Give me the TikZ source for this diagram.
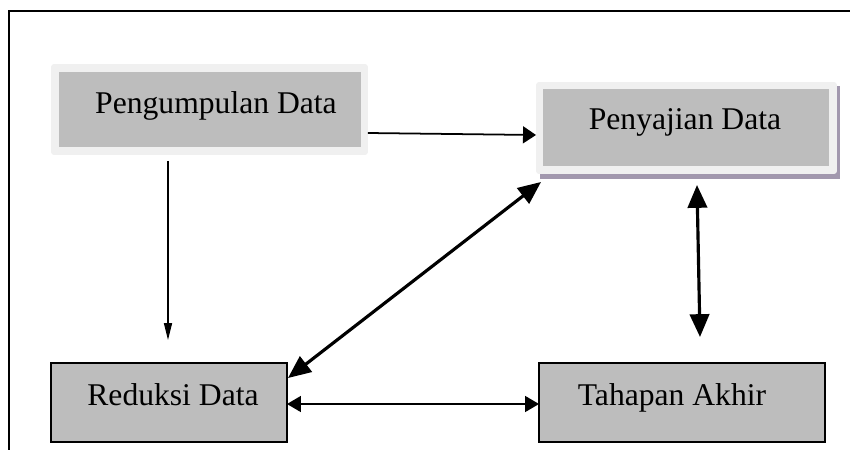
\documentclass[tikz,border=0pt]{standalone}
\usepackage{fontspec}
\setmainfont{Liberation Serif}
\usetikzlibrary{arrows.meta,calc}
\definecolor{boxgray}{RGB}{189,189,189}
\definecolor{lightframe}{RGB}{240,240,240}
\definecolor{shadowc}{RGB}{162,152,174}
\tikzset{
  lightbox/.style={fill=lightframe, rounded corners=1.7pt, inner sep=0pt, outer sep=0pt},
  innerbox/.style={fill=boxgray, inner sep=0pt, outer sep=0pt},
  shadowbox/.style={fill=shadowc, inner sep=0pt, outer sep=0pt},
  stagebox/.style={fill=boxgray, draw=black, line width=0.9pt, inner sep=0pt, outer sep=0pt},
  lbl/.style={anchor=base, inner sep=0pt, font=\fontsize{18pt}{21pt}\selectfont},
  framebar/.style={line width=1.5pt},
  thinarrow/.style={line width=1pt, -{Triangle[length=7.4pt,width=9.6pt]}},
  slimarrow/.style={line width=0.7pt, -{Triangle[length=9.6pt,width=4.6pt]}},
  twoarrow/.style={line width=1pt, {Triangle[length=7.9pt,width=9pt]}-{Triangle[length=7.9pt,width=9pt]}},
  boldtwoarrow/.style={line width=1.8pt, {Triangle[length=13pt,width=11pt]}-{Triangle[length=13pt,width=11pt]}}
}
\begin{document}
\begin{tikzpicture}[x=0.02cm,y=-0.02cm]
\useasboundingbox (0,0) rectangle (850,450);
% frame
\draw[framebar] (9,450) -- (9,11) -- (850,11);

% Pengumpulan Data
\node[lightbox, minimum width=6.34cm, minimum height=1.82cm] (pdo) at (209.5,109.5) {};
\node[innerbox, minimum width=6.04cm, minimum height=1.5cm] (pdi) at (210,109.5) {};
\node[lbl] (pdt) at (216,113) {Pengumpulan Data};

% Penyajian Data
\node[shadowbox, minimum width=6cm, minimum height=1.86cm] (pss) at (690,132.5) {};
\node[lightbox, minimum width=6.02cm, minimum height=1.84cm] (pso) at (686.5,128) {};
\node[innerbox, minimum width=5.72cm, minimum height=1.54cm] (psi) at (686,127.5) {};
\node[lbl] (pst) at (685,129) {Penyajian Data};

% Reduksi Data
\node[stagebox, minimum width=4.72cm, minimum height=1.58cm] (rd) at (169,402.5) {};
\node[lbl] (rdt) at (173,405) {Reduksi Data};

% Tahapan Akhir
\node[stagebox, minimum width=5.72cm, minimum height=1.58cm] (ta) at (682,402.5) {};
\node[lbl] (tat) at (672,405) {Tahapan Akhir};

% connectors
\draw[thinarrow] ($(pdo.east)+(0,23.5)$) -- ($(pso.west)+(0,7)$);
\draw[slimarrow] ($(pdo.south)+(-41.5,6)$) -- ($(rd.north)+(-1,-23)$);
\draw[boldtwoarrow] ($(rd.north east)+(1,15)$) -- ($(pso.south west)+(5,8)$);
\draw[boldtwoarrow] ($(pso.south)+(10.5,11)$) -- ($(ta.north)+(18,-26)$);
\draw[twoarrow] ($(rd.east)+(0,1.5)$) -- ($(ta.west)+(0,1.5)$);
\end{tikzpicture}
\end{document}
